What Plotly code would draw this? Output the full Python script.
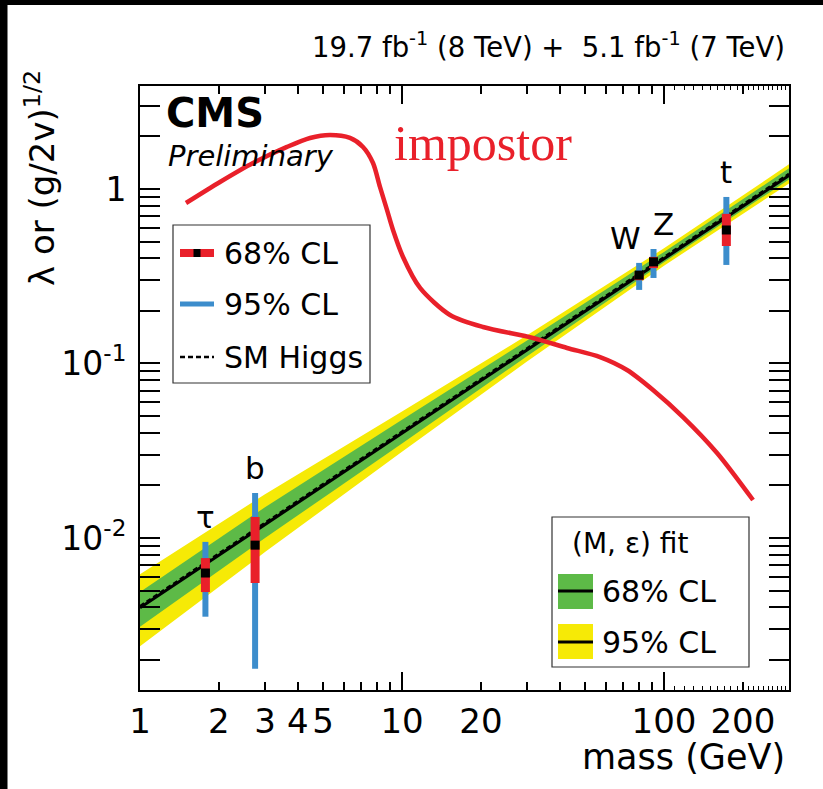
import math
import plotly.graph_objects as go

# ---------------- data ----------------
band_mass = [1, 3, 10, 30, 100, 300]
fit_center = [0.00398, 0.0119, 0.0398, 0.1195, 0.398, 1.195]
sm_line = [0.00407, 0.0122, 0.0407, 0.122, 0.407, 1.22]
band95_hi = [0.0062, 0.0178, 0.0531, 0.145, 0.457, 1.384]
band95_lo = [0.0024, 0.0083, 0.0312, 0.1028, 0.363, 1.075]
band68_hi = [0.0049, 0.0150, 0.0476, 0.1353, 0.436, 1.313]
band68_lo = [0.0031, 0.0100, 0.0348, 0.110, 0.380, 1.133]

particles = ["τ", "b", "W", "Z", "t"]
p_mass = [1.777, 2.75, 80.4, 91.2, 173.0]
p_val = [0.0063, 0.0091, 0.321, 0.382, 0.582]
p68_hi = [0.00767, 0.0132, 0.335, 0.408, 0.72]
p68_lo = [0.0049, 0.00552, 0.30, 0.352, 0.471]
p95_hi = [0.0095, 0.0181, 0.377, 0.453, 0.90]
p95_lo = [0.00354, 0.00178, 0.264, 0.309, 0.367]
label_dx = [0, 0, -14, 10, 0]

imp_mass = [1.498, 2.020, 2.700, 3.640, 4.456, 5.312, 6.332, 7.098, 7.751, 8.241,
            8.764, 9.240, 10.09, 11.72, 15.25, 20.38, 31.62, 42.65, 57.0, 72.25,
            90.8, 118.2, 159.4, 218.7]
imp_val = [0.831, 1.097, 1.409, 1.741, 1.960, 2.039, 1.960, 1.741, 1.409, 1.027,
           0.758, 0.582, 0.4076, 0.2709, 0.1896, 0.1618, 0.1400, 0.1227, 0.1089, 0.0918,
           0.0705, 0.0493, 0.0307, 0.0165]

x_tick_vals = [1, 2, 3, 4, 5, 10, 20, 100, 200]
x_tick_text = ["1", "2", "3", "4", "5", "10", "20", "100", "200"]
y_tick_vals = [0.01, 0.1, 1]
y_tick_text = ["10<sup>-2</sup>", "10<sup>-1</sup>", "1"]

# ---------------- styling ----------------
W, H = 823, 789
L, R, T, B = 140, 34, 86, 99
PW, PH = W - L - R, H - T - B
XR = [0, math.log10(300)]
YR = [-2.871, 0.590]

RED = "#e9202a"
BLUE = "#3c8dcc"
GREEN = "#5dba47"
YELLOW = "#f6ea06"
FONT = "DejaVu Sans"


def px(x):
    return (x - L) / PW


def py(y):
    return (H - B - y) / PH


fig = go.Figure()

# bands
fig.add_trace(go.Scatter(x=band_mass + band_mass[::-1], y=band95_hi + band95_lo[::-1],
                         fill="toself", fillcolor=YELLOW, line=dict(width=0), mode="lines",
                         hoverinfo="skip"))
fig.add_trace(go.Scatter(x=band_mass + band_mass[::-1], y=band68_hi + band68_lo[::-1],
                         fill="toself", fillcolor=GREEN, line=dict(width=0), mode="lines",
                         hoverinfo="skip"))
fig.add_trace(go.Scatter(x=band_mass, y=fit_center, mode="lines",
                         line=dict(color="black", width=3)))
fig.add_trace(go.Scatter(x=band_mass, y=sm_line, mode="lines",
                         line=dict(color="black", width=2.5, dash="5px,3px")))

# measurements: 95% (blue), 68% (red), central (black)
fig.add_trace(go.Scatter(
    x=p_mass, y=p_val, mode="markers", marker=dict(size=1, color="rgba(0,0,0,0)"),
    error_y=dict(type="data", symmetric=False,
                 array=[h - v for h, v in zip(p95_hi, p_val)],
                 arrayminus=[v - l for l, v in zip(p95_lo, p_val)],
                 color=BLUE, thickness=6, width=0)))
fig.add_trace(go.Scatter(
    x=p_mass, y=p_val, mode="markers", marker=dict(size=1, color="rgba(0,0,0,0)"),
    error_y=dict(type="data", symmetric=False,
                 array=[h - v for h, v in zip(p68_hi, p_val)],
                 arrayminus=[v - l for l, v in zip(p68_lo, p_val)],
                 color=RED, thickness=9, width=0)))
fig.add_trace(go.Scatter(x=p_mass, y=p_val, mode="markers",
                         marker=dict(symbol="square", size=9, color="black", line=dict(width=0))))

# impostor curve
fig.add_trace(go.Scatter(x=imp_mass, y=imp_val, mode="lines",
                         line=dict(color=RED, width=4.5, shape="spline", smoothing=0.8)))

# helper trace so the overlay axis exists
fig.add_trace(go.Scatter(x=[1, 300], y=[None, None], mode="lines", xaxis="x2", yaxis="y",
                         hoverinfo="skip"))

annotations = []
for name, m, hi, dx in zip(particles, p_mass, p95_hi, label_dx):
    annotations.append(dict(x=math.log10(m), y=math.log10(hi), xref="x", yref="y",
                            text=name, showarrow=False, xanchor="center", yanchor="middle",
                            xshift=dx, yshift=25, font=dict(size=31, family=FONT)))

annotations += [
    dict(x=px(787), y=py(45), xref="paper", yref="paper", xanchor="right", yanchor="middle",
         text="19.7 fb<sup>-1</sup> (8 TeV) +  5.1 fb<sup>-1</sup> (7 TeV)",
         showarrow=False, font=dict(size=27.5, family=FONT)),
    dict(x=px(164), y=py(113), xref="paper", yref="paper", xanchor="left", yanchor="middle",
         text="<b>CMS</b>", showarrow=False, font=dict(size=40, family=FONT)),
    dict(x=px(166), y=py(156), xref="paper", yref="paper", xanchor="left", yanchor="middle",
         text="<i>Preliminary</i>", showarrow=False, font=dict(size=29, family=FONT)),
    dict(x=px(483), y=py(143), xref="paper", yref="paper", xanchor="center", yanchor="middle",
         text="impostor", showarrow=False,
         font=dict(size=50, family="Liberation Serif", color=RED)),
    dict(x=px(787), y=py(757), xref="paper", yref="paper", xanchor="right", yanchor="middle",
         text="mass (GeV)", showarrow=False, font=dict(size=35, family=FONT)),
    dict(x=px(40), y=py(178), xref="paper", yref="paper", xanchor="center", yanchor="middle",
         text="λ or (g/2v)<sup>1/2</sup>", textangle=-90, showarrow=False,
         font=dict(size=34, family=FONT)),
    # legend 1 texts
    dict(x=px(222), y=py(253), xref="paper", yref="paper", xanchor="left", yanchor="middle",
         text="68% CL", showarrow=False, font=dict(size=30, family=FONT)),
    dict(x=px(222), y=py(304), xref="paper", yref="paper", xanchor="left", yanchor="middle",
         text="95% CL", showarrow=False, font=dict(size=30, family=FONT)),
    dict(x=px(222), y=py(357), xref="paper", yref="paper", xanchor="left", yanchor="middle",
         text="SM Higgs", showarrow=False, font=dict(size=30, family=FONT)),
    # legend 2 texts
    dict(x=px(630), y=py(543), xref="paper", yref="paper", xanchor="center", yanchor="middle",
         text="(M, ε) fit", showarrow=False, font=dict(size=28, family=FONT)),
    dict(x=px(600), y=py(591), xref="paper", yref="paper", xanchor="left", yanchor="middle",
         text="68% CL", showarrow=False, font=dict(size=30, family=FONT)),
    dict(x=px(600), y=py(642), xref="paper", yref="paper", xanchor="left", yanchor="middle",
         text="95% CL", showarrow=False, font=dict(size=30, family=FONT)),
]

shapes = [
    # black border strips of the picture
    dict(type="rect", xref="paper", yref="paper", x0=px(0), x1=px(7.5), y0=py(H), y1=py(0),
         fillcolor="black", line=dict(width=0), layer="above"),
    dict(type="rect", xref="paper", yref="paper", x0=px(0), x1=px(W), y0=py(5), y1=py(0),
         fillcolor="black", line=dict(width=0), layer="above"),
    # legend 1
    dict(type="rect", xref="paper", yref="paper", x0=px(173), x1=px(370), y0=py(383), y1=py(225),
         fillcolor="white", line=dict(color="#333333", width=1.2), layer="above"),
    dict(type="line", xref="paper", yref="paper", x0=px(180), x1=px(214), y0=py(253), y1=py(253),
         line=dict(color=RED, width=8), layer="above"),
    dict(type="rect", xref="paper", yref="paper", x0=px(193.5), x1=px(200.5), y0=py(257), y1=py(249),
         fillcolor="black", line=dict(width=0), layer="above"),
    dict(type="line", xref="paper", yref="paper", x0=px(180), x1=px(214), y0=py(304), y1=py(304),
         line=dict(color=BLUE, width=5), layer="above"),
    dict(type="line", xref="paper", yref="paper", x0=px(180), x1=px(214), y0=py(357), y1=py(357),
         line=dict(color="black", width=2.5, dash="5px,3px"), layer="above"),
    # legend 2
    dict(type="rect", xref="paper", yref="paper", x0=px(552), x1=px(749), y0=py(667), y1=py(517),
         fillcolor="white", line=dict(color="#333333", width=1.2), layer="above"),
    dict(type="rect", xref="paper", yref="paper", x0=px(558), x1=px(593), y0=py(609), y1=py(574),
         fillcolor=GREEN, line=dict(width=0), layer="above"),
    dict(type="line", xref="paper", yref="paper", x0=px(558), x1=px(593), y0=py(591), y1=py(591),
         line=dict(color="black", width=3), layer="above"),
    dict(type="rect", xref="paper", yref="paper", x0=px(558), x1=px(593), y0=py(659), y1=py(624),
         fillcolor=YELLOW, line=dict(width=0), layer="above"),
    dict(type="line", xref="paper", yref="paper", x0=px(558), x1=px(593), y0=py(642), y1=py(642),
         line=dict(color="black", width=3), layer="above"),
]

x_minor = [6, 7, 8, 9, 30, 40, 50, 60, 70, 80, 90]
x_tiny = [110, 120, 130, 140, 150, 160, 170, 180, 190, 210, 220, 230, 240, 250, 260, 270, 280, 290]
y_minor = [k * 10.0 ** e for e in (-3, -2, -1) for k in range(2, 10)] + [2, 3]
y_minor = [v for v in y_minor if v > 10 ** YR[0]]

fig.update_layout(
    width=W, height=H, margin=dict(l=L, r=R, t=T, b=B, autoexpand=False),
    paper_bgcolor="white", plot_bgcolor="white", showlegend=False,
    font=dict(family=FONT, color="black"),
    annotations=annotations, shapes=shapes,
    xaxis=dict(type="log", range=XR, showline=True, linecolor="black", linewidth=2,
               mirror="allticks", ticks="inside", ticklen=8, tickwidth=1.5, tickcolor="black",
               tickmode="array", tickvals=x_tick_vals, ticktext=x_tick_text,
               tickfont=dict(size=34, family=FONT), ticklabelstandoff=0,
               showgrid=False, zeroline=False,
               minor=dict(tickmode="array", tickvals=x_minor, ticks="inside", ticklen=8,
                          tickwidth=1.5, tickcolor="black", showgrid=False)),
    xaxis2=dict(type="log", range=XR, overlaying="x", anchor="y", side="bottom",
                showline=False, mirror="allticks", ticks="inside", ticklen=18, tickwidth=2,
                tickcolor="black", tickmode="array", tickvals=[1, 10, 100],
                showticklabels=False, showgrid=False, zeroline=False,
                minor=dict(tickmode="array", tickvals=x_tiny, ticks="inside", ticklen=4,
                           tickwidth=1, tickcolor="black", showgrid=False)),
    yaxis=dict(type="log", range=YR, showline=True, linecolor="black", linewidth=2,
               mirror="allticks", ticks="inside", ticklen=20, tickwidth=2, tickcolor="black",
               tickmode="array", tickvals=y_tick_vals, ticktext=y_tick_text,
               tickfont=dict(size=33, family=FONT), ticklabelstandoff=5,
               showgrid=False, zeroline=False,
               minor=dict(tickmode="array", tickvals=y_minor, ticks="inside", ticklen=10,
                          tickwidth=1.5, tickcolor="black", showgrid=False)),
)

fig.write_html("out.html")
